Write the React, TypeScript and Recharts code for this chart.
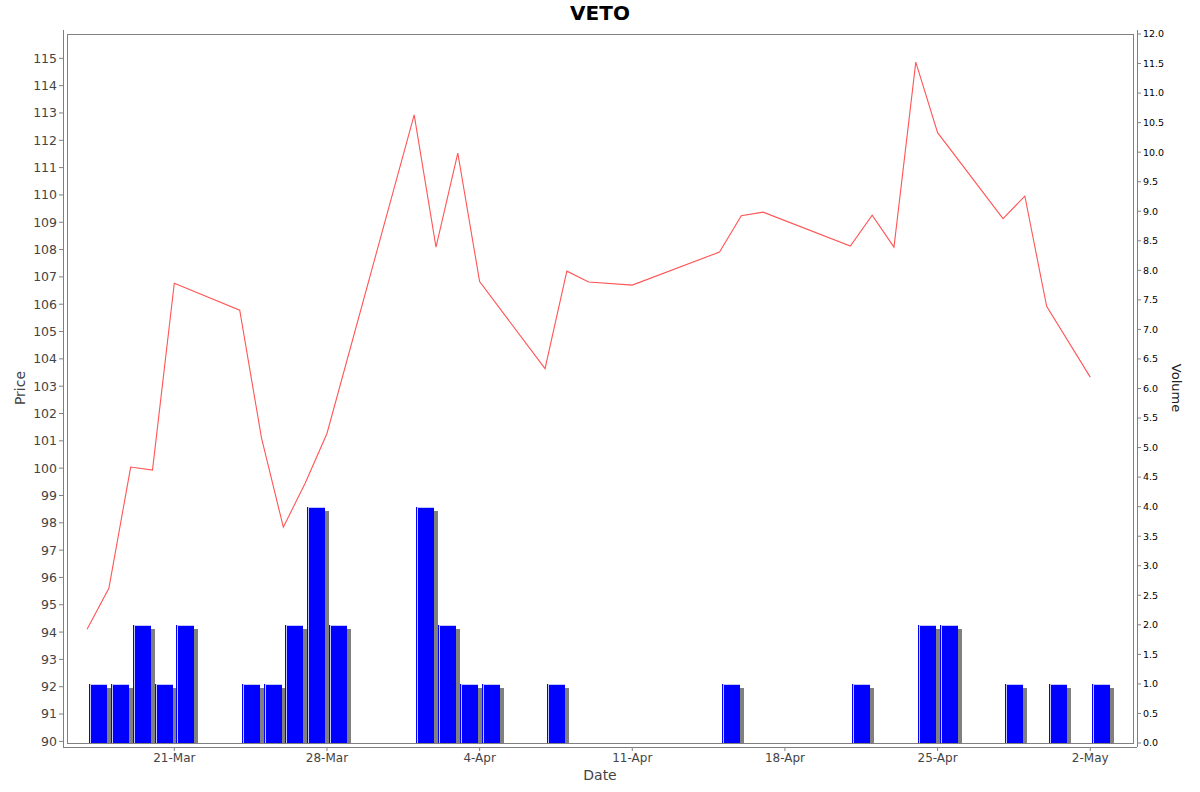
import { ComposedChart, Bar, Line, XAxis, YAxis, ReferenceArea } from "recharts";

const dates = [
  "2025-03-17", "2025-03-18", "2025-03-19", "2025-03-20", "2025-03-21",
  "2025-03-24", "2025-03-25", "2025-03-26", "2025-03-27", "2025-03-28",
  "2025-04-01", "2025-04-02", "2025-04-03", "2025-04-04", "2025-04-07",
  "2025-04-08", "2025-04-09", "2025-04-11", "2025-04-15", "2025-04-16",
  "2025-04-17", "2025-04-21", "2025-04-22", "2025-04-23", "2025-04-24",
  "2025-04-25", "2025-04-28", "2025-04-29", "2025-04-30", "2025-05-02",
];

const prices = [
  94.1, 95.6, 100.04, 99.93, 106.77,
  105.78, 101.1, 97.84, 99.45, 101.27,
  112.93, 108.09, 111.53, 106.83, 103.64,
  107.21, 106.81, 106.7, 107.91, 109.24,
  109.37, 108.13, 109.26, 108.09, 114.86,
  112.28, 109.13, 109.96, 105.92, 103.33,
];

const volumes = [
  1, 1, 2, 1, 2,
  1, 1, 2, 4, 2,
  4, 2, 1, 1, 1,
  0, 0, 0, 1, 0,
  0, 1, 0, 0, 2,
  2, 1, 0, 1, 1,
];

const xTickDates = [
  "2025-03-21", "2025-03-28", "2025-04-04", "2025-04-11",
  "2025-04-18", "2025-04-25", "2025-05-02",
];

const priceTicks = Array.from({ length: 26 }, (_, i) => 90 + i);
const volumeTicks = Array.from({ length: 25 }, (_, i) => i * 0.5);

const MONTHS = ["Jan", "Feb", "Mar", "Apr", "May", "Jun", "Jul", "Aug", "Sep", "Oct", "Nov", "Dec"];
const DAY_MS = 86400000;
const FONT = "'DejaVu Sans', sans-serif";
const AXIS_GRAY = "#808080";

const toDay = (s: string) =>
  Date.UTC(+s.slice(0, 4), +s.slice(5, 7) - 1, +s.slice(8, 10)) / DAY_MS;

const formatDay = (d: number) => {
  const dt = new Date(Math.round(d) * DAY_MS);
  return `${dt.getUTCDate()}-${MONTHS[dt.getUTCMonth()]}`;
};

const data = dates.map((d, i) => ({
  day: toDay(d),
  price: prices[i],
  volume: volumes[i],
}));

const firstDay = toDay(dates[0]);
const xDomain: [number, number] = [firstDay - 0.92, firstDay + 47.96];
const priceDomain: [number, number] = [89.94, 115.89];
const volumeDomain: [number, number] = [0, 12];

// bars start on the trading day (jfree style) instead of being centred on it
function VolumeBar(props: any) {
  const { x, y, width, height } = props;
  if (!height || height <= 0) return null;
  const left = x + width / 2 + 2;
  return (
    <g shapeRendering="crispEdges">
      <rect x={left + 4} y={y + 4} width={width} height={Math.max(height - 4, 0)} fill="#808080" />
      <rect x={left} y={y} width={width} height={height} fill="#0000ff" />
      <polyline
        points={`${left + 1.5},${y + height} ${left + 1.5},${y + 0.5} ${left + width},${y + 0.5}`}
        fill="none"
        stroke="#c4c4ff"
        strokeWidth={1}
      />
    </g>
  );
}

export default function App() {
  return (
    <div style={{ position: "absolute", left: 0, top: 0, width: 1200, height: 792, background: "#fff", fontFamily: FONT }}>
      <div style={{ position: "absolute", left: 0, width: 1200, top: 1, textAlign: "center", fontSize: 20, fontWeight: "bold", color: "#000" }}>
        VETO
      </div>
      <div style={{ position: "absolute", left: 20, top: 388, transform: "translate(-50%, -50%) rotate(-90deg)", fontSize: 14, color: "#444" }}>
        Price
      </div>
      <div style={{ position: "absolute", left: 1176, top: 388, transform: "translate(-50%, -50%) rotate(90deg)", fontSize: 13, color: "#222" }}>
        Volume
      </div>
      <div style={{ position: "absolute", left: 0, width: 1200, top: 767, textAlign: "center", fontSize: 14, color: "#444" }}>
        Date
      </div>

      <ComposedChart
        width={1200}
        height={792}
        data={data}
        margin={{ top: 30, right: 0, bottom: 0, left: 0 }}
      >
        <XAxis
          dataKey="day"
          type="number"
          domain={xDomain}
          allowDataOverflow
          ticks={xTickDates.map(toDay)}
          interval={0}
          tickFormatter={formatDay}
          height={45}
          padding={{ left: 4, right: 4 }}
          stroke={AXIS_GRAY}
          axisLine={{ stroke: AXIS_GRAY, shapeRendering: "crispEdges" }}
          tickSize={4}
          tickMargin={2}
          tick={{ fontSize: 12, fill: "#444", fontFamily: FONT }}
        />
        <YAxis
          yAxisId="price"
          orientation="left"
          type="number"
          domain={priceDomain}
          allowDataOverflow
          ticks={priceTicks}
          interval={0}
          width={63}
          padding={{ top: 4, bottom: 4 }}
          stroke={AXIS_GRAY}
          axisLine={{ stroke: AXIS_GRAY, shapeRendering: "crispEdges" }}
          tickSize={4}
          tickMargin={2}
          tick={{ fontSize: 12.5, fill: "#444", fontFamily: FONT }}
        />
        <YAxis
          yAxisId="volume"
          orientation="right"
          type="number"
          domain={volumeDomain}
          allowDataOverflow
          ticks={volumeTicks}
          interval={0}
          tickFormatter={(v: number) => v.toFixed(1)}
          width={63}
          padding={{ top: 4, bottom: 4 }}
          stroke={AXIS_GRAY}
          axisLine={{ stroke: AXIS_GRAY, shapeRendering: "crispEdges" }}
          tickSize={4}
          tickMargin={2}
          tick={{ fontSize: 9.5, fill: "#000", fontFamily: FONT }}
        />

        <ReferenceArea
          yAxisId="price"
          x1={xDomain[0]}
          x2={xDomain[1]}
          y1={priceDomain[0]}
          y2={priceDomain[1]}
          fill="none"
          stroke={AXIS_GRAY}
          strokeWidth={1}
          strokeOpacity={1}
          shapeRendering="crispEdges"
          ifOverflow="visible"
        />

        <Bar
          yAxisId="volume"
          dataKey="volume"
          barSize={18}
          shape={VolumeBar}
          isAnimationActive={false}
        />
        <Line
          yAxisId="price"
          dataKey="price"
          type="linear"
          stroke="#ff5555"
          strokeWidth={1.1}
          dot={false}
          activeDot={false}
          isAnimationActive={false}
        />
      </ComposedChart>
    </div>
  );
}
